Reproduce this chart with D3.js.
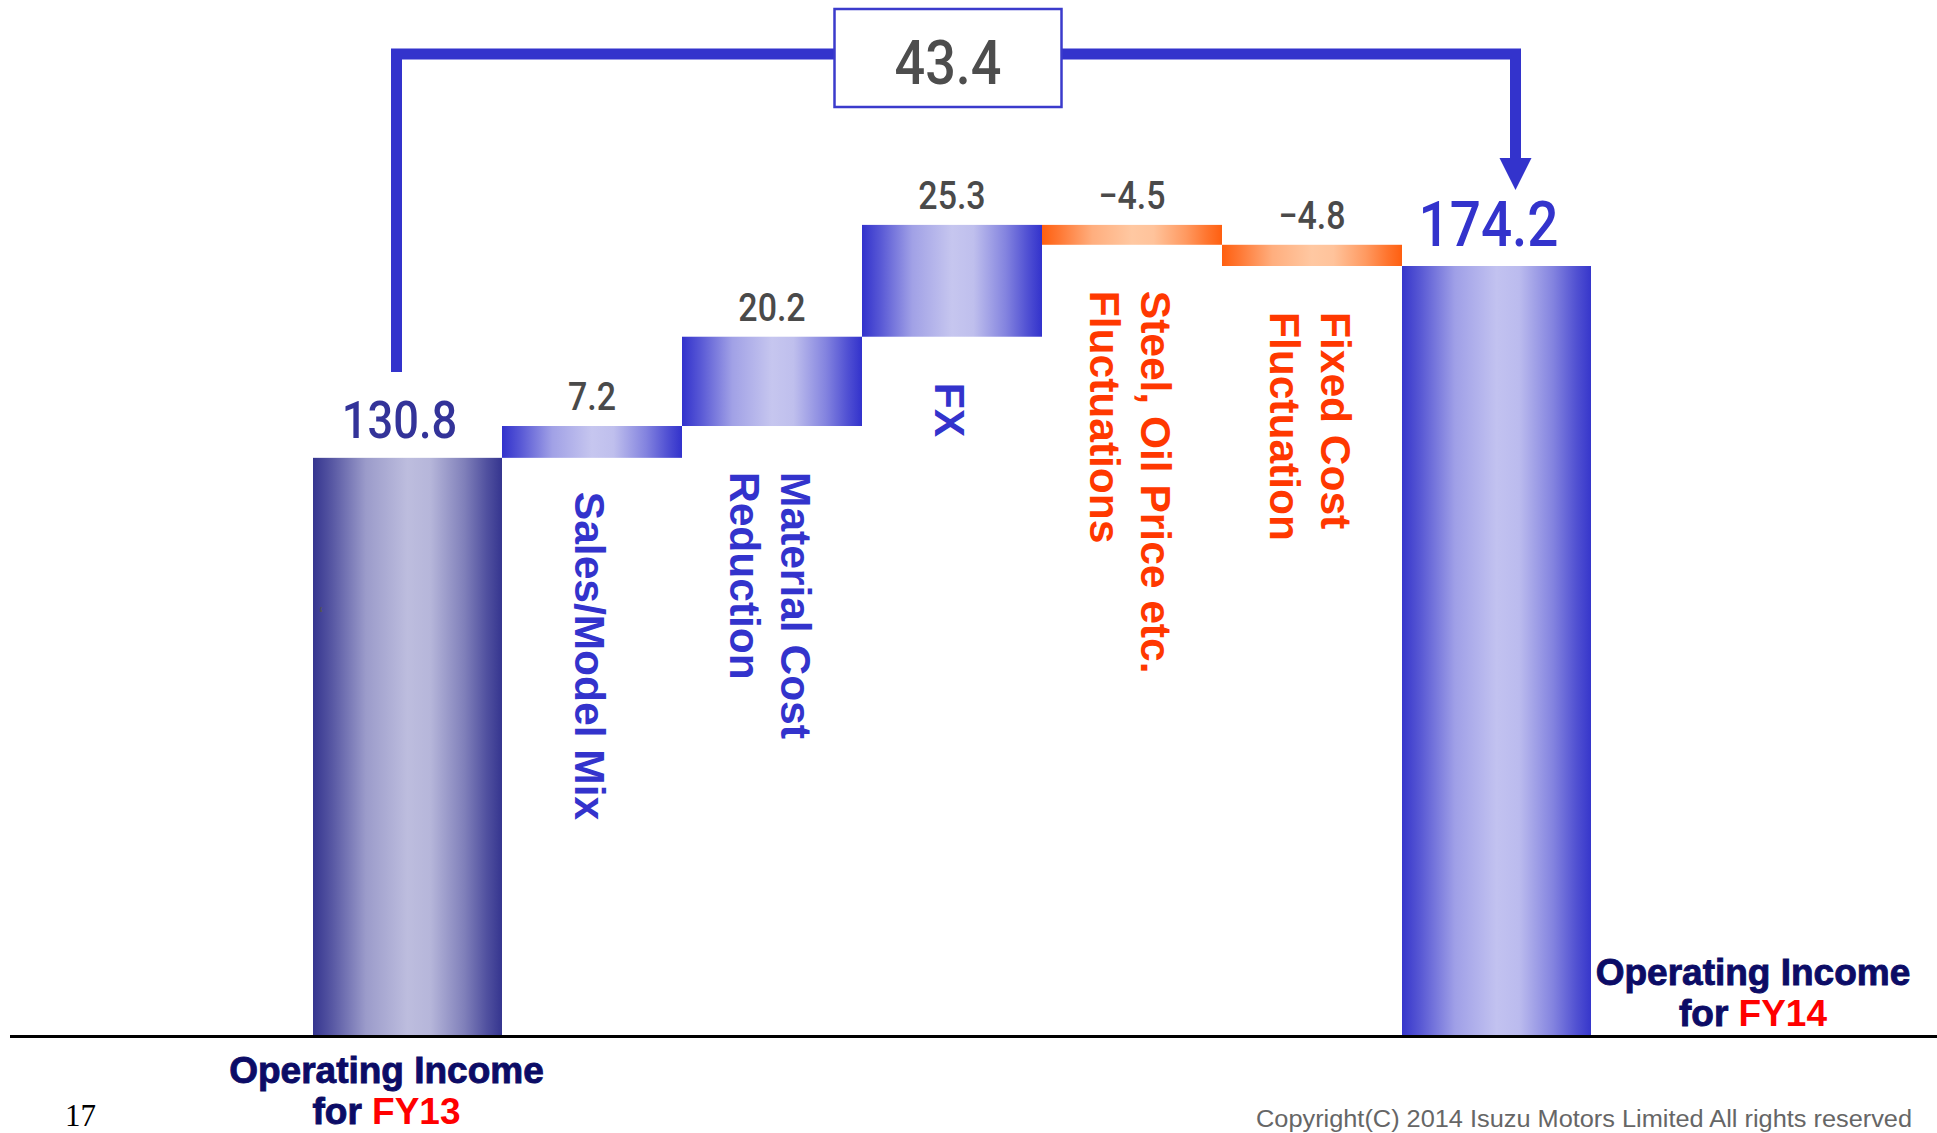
<!DOCTYPE html>
<html>
<head>
<meta charset="utf-8">
<script src="https://cdn.jsdelivr.net/npm/d3@7"></script>
<style>
  html, body { margin: 0; padding: 0; background: #ffffff; overflow: hidden; }
  svg { display: block; }
</style>
</head>
<body>
<svg id="chart" width="1937" height="1133"></svg>
<script>
// Operating income bridge, FY13 -> FY14 (billion yen)
const categories = ["FY13", "Sales/Model Mix", "Material Cost Reduction", "FX",
                    "Steel, Oil Price etc. Fluctuations", "Fixed Cost Fluctuation", "FY14"];
const kinds = ["total", "step", "step", "step", "step", "step", "total"];
const values = [130.8, 7.2, 20.2, 25.3, -4.5, -4.8, 174.2];
const valueLabels = ["130.8", "7.2", "20.2", "25.3", "\u22124.5", "\u22124.8", "174.2"];
const factorLines = [null, ["Sales/Model Mix"], ["Material Cost", "Reduction"], ["FX"],
                     ["Steel, Oil Price etc.", "Fluctuations"], ["Fixed Cost", "Fluctuation"], null];
const captionLines = ["Operating Income", "for "];
const periods = ["FY13", "FY14"];
const footerPage = "17";
const footerCopyright = "Copyright(C) 2014 Isuzu Motors Limited All rights reserved";

// ---- waterfall geometry ----
let running = 0;
const rows = categories.map((c, i) => {
  let start, end;
  if (kinds[i] === "total") { start = 0; end = values[i]; running = values[i]; }
  else { start = running; end = running + values[i]; running = end; }
  return { cat: c, i, kind: kinds[i], value: values[i], start, end, label: valueLabels[i] };
});

const svg = d3.select("#chart");
const W = 1937, H = 1133;
const baseY = 1036;
const first = rows[0], last = rows[rows.length - 1];

const x = d3.scaleBand().domain(categories).range([322, 1582]).padding(0);
// the closing total sets the vertical scale
const y = d3.scaleLinear().domain([0, last.end]).range([baseY, 266]);

// totals are a little wider than the step bars
const totalExtra = 9;
function barX0(d) { return x(d.cat) - (d.kind === "total" && d.i === 0 ? totalExtra : 0); }
function barX1(d) { return x(d.cat) + x.bandwidth() + (d.kind === "total" && d.i !== 0 ? totalExtra : 0); }
function barCx(d) { return (barX0(d) + barX1(d)) / 2; }

// ---- cylinder gradients ----
const defs = svg.append("defs");
function cylinder(id, edge, light) {
  const mix = d3.interpolateRgb(edge, light);
  const g = defs.append("linearGradient").attr("id", id)
    .attr("x1", 0).attr("x2", 1).attr("y1", 0).attr("y2", 0);
  [[0, 0], [0.1, 0.25], [0.28, 0.75], [0.5, 1], [0.62, 0.95], [0.8, 0.55], [0.92, 0.2], [1, 0]]
    .forEach(([o, t]) => g.append("stop").attr("offset", o).attr("stop-color", mix(t)));
}
cylinder("g-start", "#35358f", "#bdbdde");
cylinder("g-end", "#3636cb", "#c2c2f0");
cylinder("g-up", "#3232cc", "#c6c6ef");
cylinder("g-down", "#ff5f10", "#ffc8a2");

function fillFor(d) {
  if (d.kind === "total") return d.i === 0 ? "url(#g-start)" : "url(#g-end)";
  return d.value >= 0 ? "url(#g-up)" : "url(#g-down)";
}

// ---- bars ----
svg.append("g").selectAll("rect").data(rows).join("rect")
  .attr("x", d => barX0(d))
  .attr("width", d => barX1(d) - barX0(d))
  .attr("y", d => y(Math.max(d.start, d.end)))
  .attr("height", d => Math.abs(y(d.start) - y(d.end)))
  .attr("fill", fillFor);

// ---- baseline ----
svg.append("line")
  .attr("x1", 10).attr("x2", W)
  .attr("y1", baseY + 0.5).attr("y2", baseY + 0.5)
  .attr("stroke", "#000").attr("stroke-width", 3);

// ---- value labels (narrow gothic digits) ----
const numFont = "Roboto, 'Liberation Sans', Arial, sans-serif";
svg.append("g").selectAll("text").data(rows).join("text")
  .attr("transform", d => {
    const top = y(Math.max(d.start, d.end));
    const cx = barCx(d) + (d.kind === "total" ? -8 : 0);
    const by = top - (d.kind === "total" ? 20 : 16);
    return `translate(${cx},${by}) scale(0.87,1)`;
  })
  .attr("text-anchor", "middle")
  .attr("font-family", numFont)
  .attr("font-weight", 500)
  .attr("font-size", d => d.kind === "total" ? (d.i === 0 ? 52 : 63) : 39)
  .attr("fill", d => d.kind === "total" ? (d.i === 0 ? "#333399" : "#3333cc") : "#4a4a4a")
  .text(d => d.label);

// ---- vertical factor labels ----
const lineGap = 51, capHalf = 15;
const factorG = svg.append("g")
  .attr("font-family", "'Liberation Sans', Arial, Helvetica, sans-serif")
  .attr("font-weight", "bold")
  .attr("font-size", 42.5);
rows.filter(d => factorLines[d.i]).forEach(d => {
  const lines = factorLines[d.i];
  const bottom = y(Math.min(d.start, d.end));
  const gap = d.i === 1 ? 34 : 46;
  const g = factorG.append("g")
    .attr("transform", `translate(${barCx(d) - 2},${bottom + gap}) rotate(90)`)
    .attr("fill", d.value >= 0 ? "#3333cc" : "#ff3800");
  const n = lines.length;
  lines.forEach((t, k) => {
    g.append("text")
      .attr("x", 0)
      .attr("y", capHalf - ((n - 1) / 2 - k) * lineGap)
      .text(t);
  });
});

// ---- change bracket from FY13 to FY14 ----
const bx0 = barCx(first) - 11, bx1 = barCx(last) + 19;
const bTop = 54, bLeftEnd = 372, arrowBase = 158, arrowTip = 190;
const blue = "#3333cc";
svg.append("path")
  .attr("d", `M${bx0},${bLeftEnd} V${bTop} H${bx1} V${arrowBase}`)
  .attr("fill", "none").attr("stroke", blue)
  .attr("stroke-width", 11).attr("stroke-linejoin", "miter").attr("stroke-linecap", "butt");
svg.append("path")
  .attr("d", `M${bx1 - 16},${arrowBase} L${bx1 + 16},${arrowBase} L${bx1},${arrowTip} Z`)
  .attr("fill", blue);

const delta = last.end - first.end;
const boxCx = 948, boxW = 227, boxH = 98, boxY = 9;
svg.append("rect")
  .attr("x", boxCx - boxW / 2).attr("y", boxY)
  .attr("width", boxW).attr("height", boxH)
  .attr("fill", "#fff").attr("stroke", "#3b3bcc").attr("stroke-width", 2.5);
svg.append("text")
  .attr("transform", `translate(${boxCx},84) scale(0.87,1)`)
  .attr("text-anchor", "middle")
  .attr("font-family", numFont).attr("font-weight", 500)
  .attr("font-size", 62).attr("fill", "#4d4d4d")
  .text(d3.format(".1f")(delta));

// ---- period captions ----
const capFont = "'Liberation Sans', Arial, Helvetica, sans-serif";
function caption(cx, baseline, period) {
  const g = svg.append("g")
    .attr("font-family", capFont).attr("font-weight", "bold")
    .attr("font-size", 37).attr("text-anchor", "middle");
  g.append("text").attr("x", cx).attr("y", baseline)
    .attr("fill", "#0c0c66").attr("stroke", "#0c0c66").attr("stroke-width", 0.9)
    .text(captionLines[0]);
  const t = g.append("text").attr("x", cx).attr("y", baseline + 41);
  t.append("tspan").attr("fill", "#0c0c66").attr("stroke", "#0c0c66").attr("stroke-width", 0.9)
    .text(captionLines[1]);
  t.append("tspan").attr("fill", "#ff0000").text(period);
}
caption(barCx(first) - 21, 1083, periods[0]);
caption(barX1(last) + 162, 985, periods[1]);

// stray glyph inside the FY13 bar
svg.append("text").attr("x", 319).attr("y", 621)
  .attr("font-family", capFont).attr("font-size", 20).attr("fill", "#555")
  .text("\u2018");

// ---- footer ----
svg.append("text").attr("x", 65).attr("y", 1126)
  .attr("font-family", "'Liberation Serif', 'Times New Roman', serif")
  .attr("font-size", 31).attr("fill", "#000")
  .text(footerPage);
svg.append("text").attr("x", 1912).attr("y", 1127)
  .attr("text-anchor", "end")
  .attr("font-family", "'Liberation Sans', Arial, sans-serif")
  .attr("font-size", 23).attr("fill", "#666")
  .attr("textLength", 656).attr("lengthAdjust", "spacingAndGlyphs")
  .text(footerCopyright);
</script>
</body>
</html>
